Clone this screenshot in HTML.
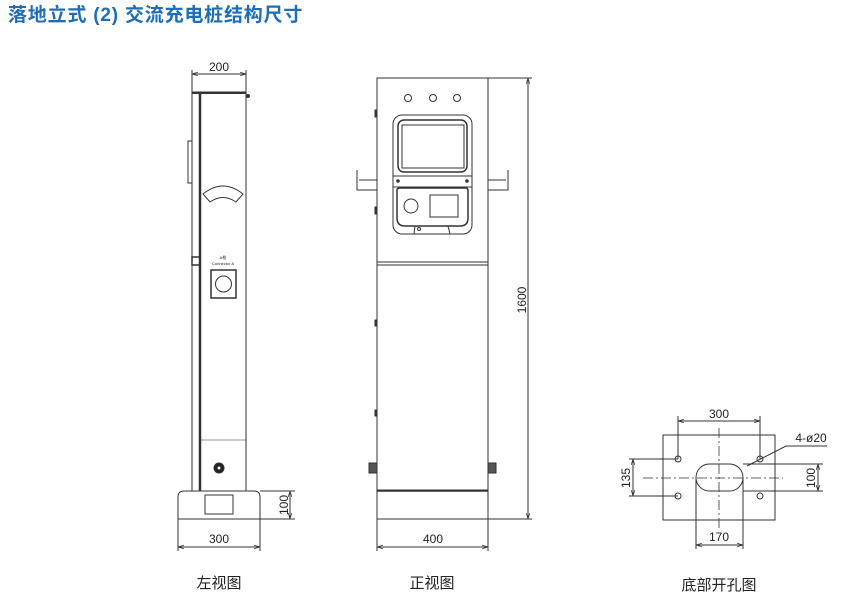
<!DOCTYPE html>
<html><head><meta charset="utf-8"><style>
html,body{margin:0;padding:0;background:#fff;width:852px;height:602px;overflow:hidden}
svg{display:block}
text{font-family:"Liberation Sans","Noto Sans CJK SC",sans-serif;fill:#222}
</style></head><body>
<svg width="852" height="602" viewBox="0 0 852 602" xmlns="http://www.w3.org/2000/svg">
<defs><marker id="a" viewBox="0 0 10 10" refX="10" refY="5" markerWidth="6" markerHeight="6" orient="auto-start-reverse"><path d="M0,2 L10,5 L0,8" fill="none" stroke="#333" stroke-width="1.2"/></marker></defs>
<text x="8" y="21" font-size="19" font-weight="bold" letter-spacing="0.8" style="fill:#1f6db5">落地立式 (2) 交流充电桩结构尺寸</text>
<g stroke="#333" fill="none" stroke-width="1">
<!-- left view -->
<line x1="192" y1="70" x2="192" y2="92"/><line x1="246" y1="70" x2="246" y2="92"/>
<line x1="192" y1="74" x2="246" y2="74" marker-start="url(#a)" marker-end="url(#a)"/>
<rect x="192" y="92" width="54" height="399"/>
<line x1="200" y1="92" x2="200" y2="491" stroke-width="2.5"/>
<line x1="192" y1="93" x2="246" y2="93" stroke-width="2"/>
<rect x="188" y="141" width="4" height="42"/>
<rect x="192" y="257" width="8" height="8" stroke-width="1.5"/>
<circle cx="248" cy="96" r="1.5" fill="#333"/>
<path d="M203,194 Q223,178 243,194 L236,202 Q223,193 210,202 Z"/>
<rect x="211" y="270" width="25" height="28" stroke-width="1.5"/>
<circle cx="223.5" cy="284" r="8"/>
<circle cx="219" cy="468" r="5" fill="#222"/><circle cx="219" cy="468" r="1.5" fill="#fff" stroke="none"/>
<line x1="200" y1="440" x2="246" y2="440" stroke-width="0.6"/>
<path d="M178,519 L178,497 Q178,491 184,491 L254,491 Q260,491 260,497 L260,519 Z"/>
<rect x="205" y="495" width="28" height="19"/>
<line x1="260" y1="491" x2="295" y2="491"/><line x1="260" y1="519" x2="295" y2="519"/>
<line x1="290" y1="491" x2="290" y2="519" marker-start="url(#a)" marker-end="url(#a)"/>
<line x1="178" y1="519" x2="178" y2="551"/><line x1="260" y1="519" x2="260" y2="551"/>
<line x1="178" y1="547" x2="260" y2="547" marker-start="url(#a)" marker-end="url(#a)"/>
<!-- front view -->
<rect x="377" y="78" width="111" height="413"/>
<line x1="377" y1="262" x2="488" y2="262"/><line x1="377" y1="265" x2="488" y2="265"/>
<line x1="488" y1="78" x2="532" y2="78"/><line x1="488" y1="519" x2="532" y2="519"/>
<line x1="528" y1="78" x2="528" y2="519" marker-start="url(#a)" marker-end="url(#a)"/>
<circle cx="408" cy="98" r="3.5"/><circle cx="433" cy="98" r="3.5"/><circle cx="457" cy="98" r="3.5"/>
<rect x="393" y="115" width="79" height="119" rx="9"/>
<rect x="398" y="120" width="69" height="52" rx="6" stroke-width="1.5"/>
<rect x="402" y="125" width="62" height="43"/>
<line x1="393" y1="176" x2="472" y2="176"/><line x1="393" y1="187" x2="472" y2="187"/>
<circle cx="398" cy="181" r="1.3" fill="#333"/><circle cx="467" cy="181" r="1.3" fill="#333"/>
<path d="M397,190 Q397,188 400,188 L466,188 Q468,188 468,191 L468,218 Q468,226 460,226 L405,226 Q397,226 397,218 Z" stroke-width="1.5"/>
<circle cx="411" cy="206" r="7"/>
<rect x="430" y="195" width="28" height="22"/>
<path d="M414,234 L415,226 L448,226 L450,234"/>
<circle cx="419" cy="229" r="1.5"/>
<path d="M357,170 L357,190 L377,190 M359,180 L377,180"/>
<path d="M508,170 L508,190 L488,190 M506,180 L488,180"/>
<rect x="375" y="110" width="2" height="7" fill="#333"/><rect x="375" y="207" width="2" height="7" fill="#333"/>
<rect x="375" y="320" width="2" height="6" fill="#333"/><rect x="375" y="410" width="2" height="6" fill="#333"/>
<rect x="369" y="463" width="8" height="10" fill="#555"/><rect x="488" y="463" width="8" height="10" fill="#555"/>
<rect x="377" y="490" width="111" height="29"/>
<line x1="377" y1="491" x2="488" y2="491" stroke-width="1.5"/>
<line x1="377" y1="519" x2="377" y2="551"/><line x1="488" y1="519" x2="488" y2="551"/>
<line x1="377" y1="547" x2="488" y2="547" marker-start="url(#a)" marker-end="url(#a)"/>
<!-- bottom plan -->
<rect x="663" y="435" width="112" height="85"/>
<line x1="719" y1="428" x2="719" y2="528" stroke-dasharray="10,3,2,3" stroke-width="0.8"/>
<line x1="643" y1="478" x2="783" y2="478" stroke-dasharray="10,3,2,3" stroke-width="0.8"/>
<circle cx="678" cy="459" r="3"/><circle cx="760" cy="459" r="3"/><circle cx="678" cy="496" r="3"/><circle cx="760" cy="496" r="3"/>
<rect x="696" y="464" width="47" height="27" rx="13.5"/>
<line x1="678" y1="416" x2="678" y2="459"/><line x1="760" y1="416" x2="760" y2="459"/>
<line x1="678" y1="421" x2="760" y2="421" marker-start="url(#a)" marker-end="url(#a)"/>
<line x1="629" y1="459" x2="678" y2="459"/><line x1="629" y1="496" x2="678" y2="496"/>
<line x1="633" y1="459" x2="633" y2="496" marker-start="url(#a)" marker-end="url(#a)"/>
<line x1="743" y1="464" x2="823" y2="464"/><line x1="743" y1="491" x2="823" y2="491"/>
<line x1="818" y1="464" x2="818" y2="491" marker-start="url(#a)" marker-end="url(#a)"/>
<line x1="696" y1="478" x2="696" y2="549"/><line x1="743" y1="478" x2="743" y2="549"/>
<line x1="696" y1="545" x2="743" y2="545" marker-start="url(#a)" marker-end="url(#a)"/>
<path d="M747,466 L786,446 L827,446"/>
</g>
<g font-size="12" text-anchor="middle">
<text x="219" y="71">200</text>
<text x="219" y="543">300</text>
<text transform="translate(288,505) rotate(-90)">100</text>
<text x="433" y="543">400</text>
<text transform="translate(526,300) rotate(-90)">1600</text>
<text x="719" y="418">300</text>
<text x="719" y="541">170</text>
<text transform="translate(630,478) rotate(-90)">135</text>
<text transform="translate(815,478) rotate(-90)">100</text>
<text x="811" y="442">4-ø20</text>
<text x="223" y="259" font-size="4">A枪</text>
<text x="223" y="265" font-size="4">Connector A</text>
</g>
<g font-size="15" text-anchor="middle">
<text x="219" y="588">左视图</text>
<text x="432" y="588">正视图</text>
<text x="719" y="590">底部开孔图</text>
</g>
</svg>
</body></html>
